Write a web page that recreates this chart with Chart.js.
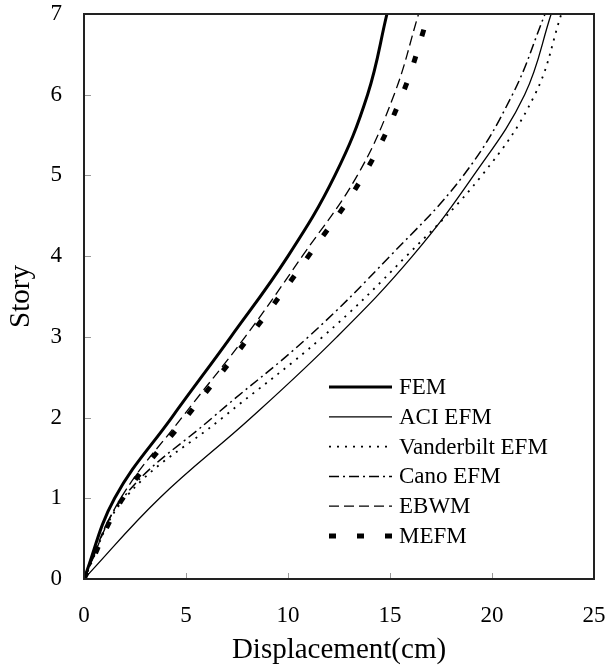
<!DOCTYPE html>
<html>
<head>
<meta charset="utf-8">
<script src="https://cdn.jsdelivr.net/npm/chart.js@4"></script>
<style>
  html, body { margin: 0; padding: 0; background: #fff; }
  #wrap { width: 605px; height: 668px; }
</style>
</head>
<body>
<div id="wrap"><canvas id="driftChart" width="605" height="668"></canvas></div>
<script>
// Story drift profiles (displacement in cm per story level)
const stories = [0, 1, 2, 3, 4, 5, 6, 7];
const femDisp = [0, 1.5, 4.3, 7.2, 10.0, 12.3, 13.9, 14.85];
const aciDisp = [0, 3.7, 8.2, 12.4, 16.1, 19.1, 21.6, 22.9];
const vanderbiltDisp = [0, 2.0, 6.8, 11.7, 15.8, 19.5, 22.1, 23.4];
const canoDisp = [0, 1.9, 6.3, 11.0, 15.0, 18.6, 21.0, 22.6];
const ebwmDisp = [0, 1.8, 4.8, 7.9, 10.7, 13.4, 15.2, 16.4];
const mefmDisp = [0, 1.9, 5.0, 8.1, 11.0, 13.7, 15.6, 16.9];

const xTicks = [0, 5, 10, 15, 20, 25];
const yTicks = [0, 1, 2, 3, 4, 5, 6, 7];

const serif = '"Liberation Serif", "Times New Roman", serif';

function toPoints(disp) {
  return disp.map((d, i) => ({ x: d, y: stories[i] }));
}

function series(label, disp, width, dash) {
  return {
    label: label,
    data: toPoints(disp),
    borderColor: '#000',
    backgroundColor: '#000',
    borderWidth: width,
    borderDash: dash,
    pointRadius: 0,
    tension: 0.4,
    fill: false
  };
}

// frame + inward tick marks + legend in lower right
const framePlugin = {
  id: 'frame',
  afterDraw(chart) {
    const ctx = chart.ctx;
    const a = chart.chartArea;
    const xs = chart.scales.x, ys = chart.scales.y;
    ctx.save();
    // small inward ticks
    ctx.strokeStyle = '#999';
    ctx.lineWidth = 1;
    xTicks.forEach(v => {
      const px = Math.round(xs.getPixelForValue(v)) + 0.5;
      ctx.beginPath(); ctx.moveTo(px, a.bottom); ctx.lineTo(px, a.bottom - 6); ctx.stroke();
    });
    yTicks.forEach(v => {
      const py = Math.round(ys.getPixelForValue(v)) + 0.5;
      ctx.beginPath(); ctx.moveTo(a.left, py); ctx.lineTo(a.left + 7, py); ctx.stroke();
    });
    // box
    ctx.strokeStyle = '#222';
    ctx.lineWidth = 2;
    ctx.strokeRect(a.left, a.top, a.right - a.left, a.bottom - a.top);

    // legend
    const x0 = 329, x1 = 392, tx = 399;
    let y = 387;
    ctx.font = '23px ' + serif;
    ctx.textBaseline = 'middle';
    ctx.textAlign = 'left';
    ctx.fillStyle = '#000';
    chart.data.datasets.forEach(ds => {
      ctx.strokeStyle = '#000';
      ctx.lineWidth = ds.borderWidth;
      ctx.setLineDash(ds.borderDash || []);
      ctx.beginPath(); ctx.moveTo(x0, y); ctx.lineTo(x1, y); ctx.stroke();
      ctx.setLineDash([]);
      ctx.fillText(ds.label, tx, y + 1);
      y += 29.8;
    });
    ctx.restore();
  }
};

const ctx = document.getElementById('driftChart').getContext('2d');
const driftChart = new Chart(ctx, {
  type: 'line',
  data: {
    datasets: [
      series('FEM', femDisp, 3, []),
      series('ACI EFM', aciDisp, 1.3, []),
      series('Vanderbilt EFM', vanderbiltDisp, 1.8, [2, 6]),
      series('Cano EFM', canoDisp, 1.5, [10, 4, 2, 4]),
      series('EBWM', ebwmDisp, 1.3, [10, 5]),
      series('MEFM', mefmDisp, 5, [7, 21])
    ]
  },
  options: {
    responsive: false,
    animation: false,
    layout: { padding: { top: 14, right: 11, left: 0, bottom: 0 } },
    plugins: {
      legend: { display: false },
      tooltip: { enabled: false }
    },
    scales: {
      x: {
        type: 'linear',
        min: 0, max: 25,
        afterFit: s => { s.height = 89; s.paddingLeft = 0; s.paddingRight = 0; },
        afterBuildTicks: s => { s.ticks = xTicks.map(v => ({ value: v })); },
        grid: { display: false, drawTicks: false },
        border: { display: false },
        ticks: { color: '#000', padding: 23, font: { family: serif, size: 23 } },
        title: {
          display: true, text: 'Displacement(cm)', color: '#000',
          font: { family: serif, size: 29 }, padding: { top: 0, bottom: 0 }
        }
      },
      y: {
        type: 'linear',
        min: 0, max: 7,
        afterFit: s => { s.width = 84; s.paddingTop = 0; s.paddingBottom = 0; },
        afterBuildTicks: s => { s.ticks = yTicks.map(v => ({ value: v })); },
        grid: { display: false, drawTicks: false },
        border: { display: false },
        ticks: { color: '#000', padding: 22, font: { family: serif, size: 23 } },
        title: {
          display: true, text: 'Story', color: '#000',
          font: { family: serif, size: 29 }, padding: { top: 4, bottom: 0 }
        }
      }
    }
  },
  plugins: [framePlugin]
});
</script>
</body>
</html>
